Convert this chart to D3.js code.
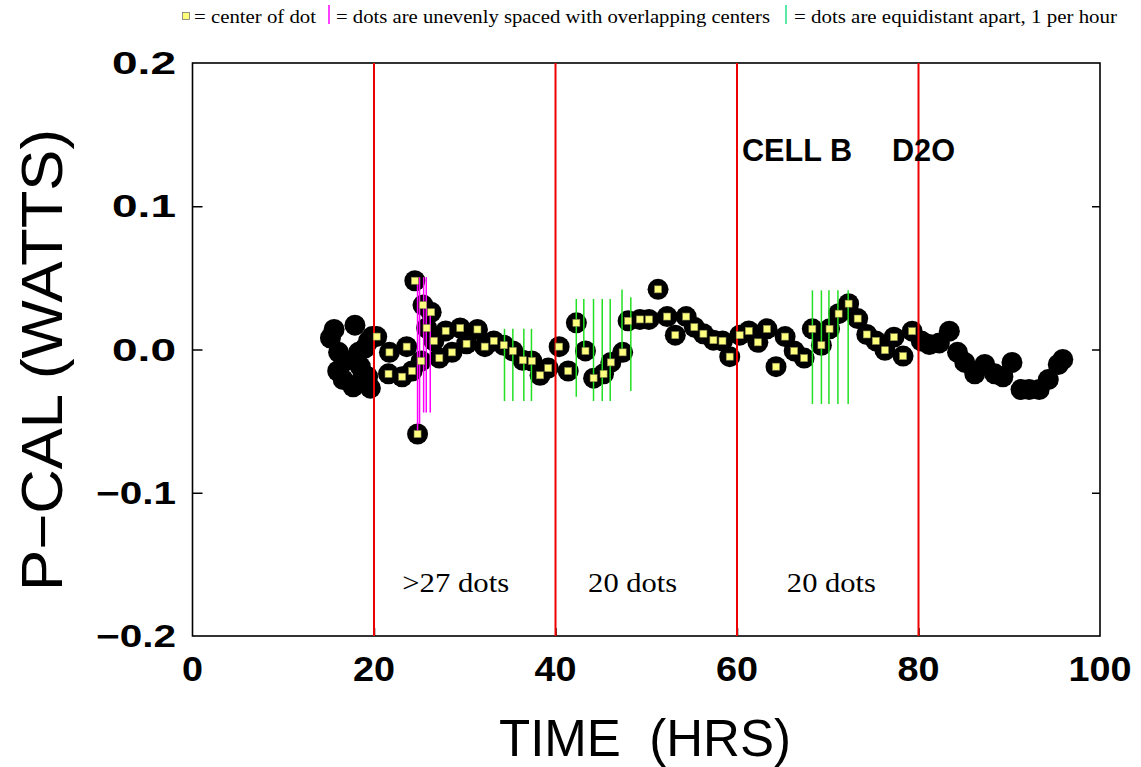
<!DOCTYPE html>
<html><head><meta charset="utf-8">
<script src="https://cdn.jsdelivr.net/npm/d3@7"></script>
<style>body{margin:0;background:#fff} text{white-space:pre}</style></head>
<body><svg id="c" width="1141" height="767"></svg>
<script>
// ---- data ----
const timeHrs = [15.2,15.6,16.1,16.0,16.6,16.8,17.7,17.9,18.3,18.5,18.8,19.0,19.4,19.3,19.6,19.8,
  20.3,21.6,21.7,23.1,23.6,24.2,24.5,24.8,25.2,25.4,25.8,26.3,26.6,27.2,27.9,28.6,29.5,30.2,31.4,32.2,33.2,34.3,35.3,
  36.4,37.4,38.3,39.2,40.4,41.4,42.3,43.3,44.2,45.3,46.1,47.4,48.0,49.3,50.3,51.3,52.3,53.2,54.4,
  55.3,56.3,57.4,58.4,59.2,60.3,61.3,62.3,63.3,64.3,65.3,66.3,67.4,68.3,69.3,70.2,71.2,72.3,73.3,74.3,
  75.3,76.3,77.3,78.3,79.3,
  80.3,81.2,82.3,83.4,84.3,85.1,86.2,87.3,88.4,89.3,90.3,91.3,92.2,93.3,94.3,95.4,95.9];
const pcalWatts = [0.008,0.014,-0.002,-0.015,-0.021,-0.008,-0.026,0.017,-0.002,-0.012,-0.018,0.001,0.006,-0.019,-0.027,0.009,
  0.009,-0.017,-0.002,-0.019,0.002,-0.015,0.048,-0.059,-0.008,0.031,0.015,0.026,0.006,-0.006,0.013,-0.002,0.015,0.004,0.014,0.002,0.006,0.003,-0.001,
  -0.0075,-0.008,-0.018,-0.013,0.002,-0.015,0.0186,-0.001,-0.020,-0.017,-0.009,-0.002,0.020,0.021,0.021,0.042,0.023,0.010,0.023,
  0.0156,0.011,0.0065,0.006,-0.005,0.010,0.013,0.005,0.0144,-0.012,0.009,-0.001,-0.006,0.0144,0.003,0.0144,0.025,0.032,0.0216,0.0105,
  0.006,-0.0005,0.0086,-0.0046,0.0128,
  0.006,0.0035,0.0046,0.0128,-0.002,-0.009,-0.017,-0.0105,-0.017,-0.019,-0.009,-0.028,-0.028,-0.028,-0.021,-0.0105,-0.007];
const centerFrom = 20, centerTo = 80;   // dots whose centers are marked
const xTicks = [0,20,40,60,80,100];
const yTicks = [-0.2,-0.1,0.0,0.1,0.2];
const yTickLabels = ["\u22120.2","\u22120.1","0.0","0.1","0.2"];
const redLineTimes = [20,40,60,80];
const magentaX = [24.80,25.02,25.47,25.76,26.20];
const magentaTop = [0.0484,0.0505,0.0505,0.0505,0.0261];
const magentaBottom = [-0.058,-0.052,-0.044,-0.044,-0.044];
const greenX = [34.38,35.30,36.51,37.35, 42.29,43.12,44.19,45.15,46.03,47.33,48.30, 68.31,69.30,70.13,71.12,72.25];
const greenTop = [0.0144,0.0144,0.0144,0.0144, 0.0353,0.0353,0.0353,0.0353,0.0353,0.0418,0.0364, 0.0413,0.0413,0.0413,0.0413,0.0413];
const greenBottom = [-0.036,-0.036,-0.036,-0.036, -0.033,-0.001,-0.036,-0.036,-0.036,-0.0013,-0.029, -0.038,-0.038,-0.038,-0.038,-0.038];
const dotCountLabels = [">27 dots","20 dots","20 dots"];
const dotCountTimes = [29.0,48.5,70.4];
const legendTexts = ["= center of dot","= dots are unevenly spaced with overlapping centers","= dots are equidistant apart, 1 per hour"];

// ---- layout ----
const svg = d3.select("#c");
svg.append("rect").attr("width",1141).attr("height",767).attr("fill","#fff");
const x = d3.scaleLinear().domain([0,100]).range([192.5,1100]);
const y = d3.scaleLinear().domain([-0.2,0.2]).range([636,63]);
const pts = timeHrs.map((t,i)=>({t, v:pcalWatts[i]}));

// frame
svg.append("rect").attr("x",x(0)).attr("y",y(0.2)).attr("width",x(100)-x(0)).attr("height",y(-0.2)-y(0.2))
  .attr("fill","none").attr("stroke","#000").attr("stroke-width",1.6);

// axes ticks (inward)
const inner = yTicks.filter(d=>d>-0.2&&d<0.2);
svg.append("g").attr("transform",`translate(${x(0)},0)`).call(d3.axisRight(y).tickValues(inner).tickSize(10).tickFormat(""))
  .call(g=>g.select(".domain").remove()).selectAll("line").attr("stroke-width",1.5);
svg.append("g").attr("transform",`translate(${x(100)},0)`).call(d3.axisLeft(y).tickValues(inner).tickSize(8).tickFormat(""))
  .call(g=>g.select(".domain").remove()).selectAll("line").attr("stroke-width",1.5);
svg.append("g").attr("transform",`translate(0,${y(-0.2)})`).call(d3.axisTop(x).tickValues(xTicks.slice(1,-1)).tickSize(8).tickFormat(""))
  .call(g=>g.select(".domain").remove()).selectAll("line").attr("stroke-width",1.5);

// tick labels
svg.append("g").selectAll("text").data(yTicks).join("text")
  .attr("x",176).attr("y",d=>y(d)+11).attr("text-anchor","end")
  .attr("font-family","Liberation Sans, Arial, sans-serif").attr("font-weight","bold").attr("font-size",31)
  .attr("textLength",(d,i)=>yTickLabels[i].startsWith("\u2212")?80:64).attr("lengthAdjust","spacingAndGlyphs")
  .text((d,i)=>yTickLabels[i]);
svg.append("g").selectAll("text").data(xTicks).join("text")
  .attr("x",d=>x(d)).attr("y",681).attr("text-anchor","middle")
  .attr("font-family","Liberation Sans, Arial, sans-serif").attr("font-weight","bold").attr("font-size",35)
  .attr("textLength",d=>String(d).length*21).attr("lengthAdjust","spacingAndGlyphs")
  .text(d=>d);

// axis titles
svg.append("text").attr("x",645).attr("y",756).attr("text-anchor","middle")
  .attr("font-family","Liberation Sans, Arial, sans-serif").attr("font-size",52)
  .attr("textLength",292).attr("lengthAdjust","spacingAndGlyphs").text("TIME  (HRS)");
svg.append("text").attr("transform","translate(62,360) rotate(-90)").attr("text-anchor","middle")
  .attr("font-family","Liberation Sans, Arial, sans-serif").attr("font-size",57)
  .attr("textLength",462).attr("lengthAdjust","spacingAndGlyphs").text("P\u2212CAL (WATTS)");

// black dots
svg.append("g").selectAll("circle").data(pts).join("circle")
  .attr("cx",d=>x(d.t)).attr("cy",d=>y(d.v)).attr("r",10.5).attr("fill","#000");

// red lines
svg.append("g").selectAll("line").data(redLineTimes).join("line")
  .attr("x1",d=>x(d)).attr("x2",d=>x(d)).attr("y1",y(0.2)).attr("y2",y(-0.2))
  .attr("stroke","#ee0000").attr("stroke-width",2);

// magenta & green lines
svg.append("g").selectAll("line").data(magentaX).join("line")
  .attr("x1",d=>x(d)).attr("x2",d=>x(d)).attr("y1",(d,i)=>y(magentaTop[i])).attr("y2",(d,i)=>y(magentaBottom[i]))
  .attr("stroke","#ff00ff").attr("stroke-width",1.5);
svg.append("g").selectAll("line").data(greenX).join("line")
  .attr("x1",d=>x(d)).attr("x2",d=>x(d)).attr("y1",(d,i)=>y(greenTop[i])).attr("y2",(d,i)=>y(greenBottom[i]))
  .attr("stroke","#22e022").attr("stroke-width",1.5);

// yellow centers
svg.append("g").selectAll("rect").data(pts.filter(d=>d.t>centerFrom&&d.t<centerTo)).join("rect")
  .attr("x",d=>x(d.t)-3.5).attr("y",d=>y(d.v)-3.5).attr("width",7).attr("height",7)
  .attr("fill","#ffff80").attr("stroke","#8a8a50").attr("stroke-width",0.6);

// annotations
svg.append("text").attr("x",742).attr("y",161).attr("font-family","Liberation Sans, Arial, sans-serif")
  .attr("font-weight","bold").attr("font-size",31).attr("textLength",110).attr("lengthAdjust","spacingAndGlyphs").text("CELL B");
svg.append("text").attr("x",892).attr("y",161).attr("font-family","Liberation Sans, Arial, sans-serif")
  .attr("font-weight","bold").attr("font-size",31).attr("textLength",63).attr("lengthAdjust","spacingAndGlyphs").text("D2O");
const dotW = [107,89,89];
svg.append("g").selectAll("text").data(dotCountLabels).join("text")
  .attr("x",(d,i)=>x(dotCountTimes[i])).attr("y",592).attr("text-anchor","middle")
  .attr("font-family","Liberation Serif, Times New Roman, serif").attr("font-size",28)
  .attr("textLength",(d,i)=>dotW[i]).attr("lengthAdjust","spacingAndGlyphs").text(d=>d);

// legend
const lg = svg.append("g").attr("font-family","Liberation Serif, Times New Roman, serif").attr("font-size",19);
lg.append("rect").attr("x",182.5).attr("y",12.5).attr("width",7).attr("height",7).attr("fill","#ffff7a").attr("stroke","#777").attr("stroke-width",0.8);
const legX = [194,336,794], legW = [122,434,323];
lg.selectAll("text").data(legendTexts).join("text").attr("x",(d,i)=>legX[i]).attr("y",23)
  .attr("textLength",(d,i)=>legW[i]).attr("lengthAdjust","spacingAndGlyphs").text(d=>d);
lg.append("line").attr("x1",329).attr("x2",329).attr("y1",5).attr("y2",24).attr("stroke","#ff00ff").attr("stroke-width",1.5);
lg.append("line").attr("x1",786).attr("x2",786).attr("y1",5).attr("y2",24).attr("stroke","#22e08a").attr("stroke-width",1.5);
</script></body></html>
